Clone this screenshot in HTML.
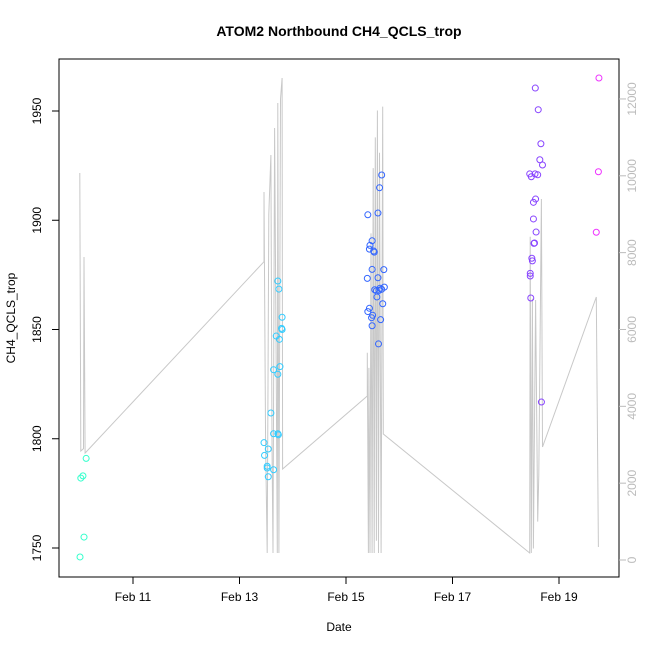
<!DOCTYPE html>
<html><head><meta charset="utf-8"><style>
body{margin:0;background:#fff}
svg{display:block;font-family:"Liberation Sans",Arial,sans-serif}
</style></head><body>
<svg id="chart" width="650" height="650" viewBox="0 0 650 650">
<text x="339" y="36" text-anchor="middle" font-size="14" font-weight="bold">ATOM2 Northbound CH4_QCLS_trop</text>
<rect x="59" y="59" width="560" height="518" fill="none" stroke="#000" stroke-width="1"/>
<g id="line"></g>
<g id="pts"></g>
<g id="axes"></g>
<text x="339" y="631" text-anchor="middle" font-size="12">Date</text>
<text transform="translate(15,318) rotate(-90)" text-anchor="middle" font-size="12">CH4_QCLS_trop</text>
</svg>
<script>
const NS="http://www.w3.org/2000/svg";
const ptDays=[10.005,10.08,10.02,10.06,10.12,
13.72,13.74,13.80,13.79,13.80,13.69,13.75,13.64,13.76,13.72,13.59,13.64,13.72,13.73,13.46,13.54,13.47,13.52,13.52,13.64,13.54,
15.67,15.63,15.41,15.60,15.49,15.45,15.44,15.52,15.53,15.49,15.71,15.40,15.60,15.54,15.57,15.64,15.67,15.72,15.62,15.58,15.69,15.44,15.41,15.50,15.48,15.65,15.49,15.61,
18.555,18.61,18.66,18.64,18.69,18.45,18.48,18.55,18.60,18.56,18.52,18.52,18.57,18.54,18.53,18.49,18.50,18.46,18.46,18.47,18.67,
19.75,19.74,19.70];
const ptVals=[1745.9,1755,1782,1783,1791,
1872.2,1868.5,1855.6,1850.5,1850,1847,1845.5,1831.6,1833,1829.5,1811.8,1802.3,1802.3,1801.8,1798.2,1795.3,1792.4,1787.4,1786.6,1785.8,1782.6,
1920.7,1914.9,1902.5,1903.3,1890.6,1888.5,1886.8,1885.9,1885.4,1877.5,1877.4,1873.4,1873.7,1868.2,1867.7,1868.9,1868.4,1869.4,1867.9,1864.9,1861.8,1859.7,1858.2,1856.5,1855.4,1854.5,1851.7,1843.4,
1960.5,1950.6,1935,1927.7,1925.3,1921.2,1919.9,1921.2,1920.8,1909.7,1908.2,1900.6,1894.6,1889.6,1889.4,1882.6,1881.4,1875.7,1874.5,1864.4,1816.8,
1965.1,1922.2,1894.5];
const ptGroups=[0,0,0,0,0,1,1,1,1,1,1,1,1,1,1,1,1,1,1,1,1,1,1,1,1,1,
2,2,2,2,2,2,2,2,2,2,2,2,2,2,2,2,2,2,2,2,2,2,2,2,2,2,2,2,
3,3,3,3,3,3,3,3,3,3,3,3,3,3,3,3,3,3,3,3,3,4,4,4];
const groupColors=["#33ffcc","#33ccff","#3366ff","#8844ff","#ee33ff"];
const lineDays=[10.00,10.02,10.07,10.08,10.10,10.12,
13.46,13.46,13.49,13.52,13.55,13.59,13.61,13.63,13.66,13.69,13.71,13.72,13.74,13.77,13.80,13.81,
15.40,15.40,15.42,15.43,15.45,15.47,15.49,15.51,15.53,15.55,15.57,15.59,15.61,15.63,15.66,15.69,15.70,
18.45,18.46,18.48,18.50,18.52,18.56,18.60,18.62,18.67,18.69,19.70,19.74];
const lineAlts=[10073,2837,2900,7886,2785,2811,
7764,9578,3000,182,9000,10541,3000,182,11244,5000,182,11895,182,12000,12546,2369,
4269,5396,182,5000,182,8500,182,10200,182,11000,500,11700,182,10600,182,11800,3280,
182,8415,182,6800,300,6767,1000,2212,9396,2941,6845,338];
const leftTicks=[1750,1800,1850,1900,1950];
const rightTicks=[0,2000,4000,6000,8000,10000,12000];
const xTickDays=[11,13,15,17,19];
const xTickLabels=["Feb 11","Feb 13","Feb 15","Feb 17","Feb 19"];

const X=d=>133+(d-11)*53.25;
const Y=v=>548-(v-1750)*2.185;
const Y2=a=>560-a*0.03842;

const line=document.getElementById('line');
let dstr='';
for(let i=0;i<lineDays.length;i++){dstr+=(i?'L':'M')+X(lineDays[i]).toFixed(1)+' '+Y2(lineAlts[i]).toFixed(1);}
const p=document.createElementNS(NS,'path');
p.setAttribute('d',dstr);p.setAttribute('fill','none');p.setAttribute('stroke','#c8c8c8');p.setAttribute('stroke-width','1');


line.appendChild(p);

const pts=document.getElementById('pts');
for(let i=0;i<ptDays.length;i++){
 const c=document.createElementNS(NS,'circle');
 c.setAttribute('cx',X(ptDays[i]));c.setAttribute('cy',Y(ptVals[i]));c.setAttribute('r','3');
 c.setAttribute('fill','none');c.setAttribute('stroke',groupColors[ptGroups[i]]);c.setAttribute('stroke-width','1');
 
 
 pts.appendChild(c);
}
const ax=document.getElementById('axes');
function mk(tag,attrs,txt){const e=document.createElementNS(NS,tag);for(const k in attrs)e.setAttribute(k,attrs[k]);if(txt!==undefined)e.textContent=txt;ax.appendChild(e);return e;}
leftTicks.forEach(v=>{
 const t=mk('line',{x1:52,x2:59,y1:Y(v),y2:Y(v),stroke:'#000'});
 
 
 const l=mk('text',{transform:`translate(41,${Y(v)}) rotate(-90)`,'text-anchor':'middle','font-size':12},String(v));
 
 
});
rightTicks.forEach(v=>{
 const t=mk('line',{x1:619,x2:626,y1:Y2(v),y2:Y2(v),stroke:'#bbb'});
 
 
 const l=mk('text',{transform:`translate(636,${Y2(v)}) rotate(-90)`,'text-anchor':'middle','font-size':12,fill:'#bbb'},String(v));
 
 
});
xTickDays.forEach((d,i)=>{
 const t=mk('line',{x1:X(d),x2:X(d),y1:577,y2:584,stroke:'#000'});
 
 
 const l=mk('text',{x:X(d),y:601,'text-anchor':'middle','font-size':12},xTickLabels[i]);
 
 
});
</script>
</body></html>
